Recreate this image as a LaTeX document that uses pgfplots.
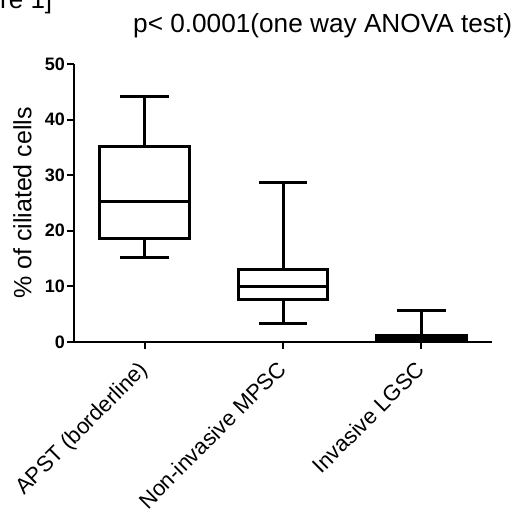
\documentclass[border=0pt]{standalone}
\usepackage{pgfplots}
\pgfplotsset{compat=1.18}
\usepgfplotslibrary{statistics}
\usepackage{fontspec}
\setmainfont{Liberation Sans}
\begin{document}
\begin{tikzpicture}[x=1pt,y=1pt]
\path[use as bounding box] (0,0) rectangle (515,512);
\node[anchor=base west, font=\fontsize{26}{30}\selectfont, inner sep=0] at (0,503) {re 1]};
\node[anchor=base west, font=\fontsize{26.2}{30}\selectfont, inner sep=0] at (133,479) {p< 0.0001(one way ANOVA test)};
\begin{axis}[
  at={(74pt,170pt)}, anchor=south west,
  scale only axis, width=418pt, height=278pt,
  xmin=0.49, xmax=3.51, ymin=0, ymax=50,
  axis x line*=bottom, axis y line*=left,
  axis line style={line width=2pt, -},
  ytick={0,10,...,50}, xtick={1,2,3},
  xticklabels={APST (borderline), Non-invasive MPSC, Invasive LGSC},
  tick align=outside, major tick length=7pt,
  every tick/.style={line width=2pt, black},
  /pgf/number format/assume math mode=true,
  yticklabel style={font=\bfseries\fontsize{18}{18}\selectfont, inner sep=2pt},
  xticklabel style={xshift=-7pt, yshift=-9pt, rotate=45, anchor=north east, font=\fontsize{22}{22}\selectfont, inner sep=1pt},
  ylabel={\% of ciliated cells},
  every axis y label/.style={at={(axis description cs:0,0.5)}, xshift=-51.5pt, rotate=90, anchor=center, font=\fontsize{25}{25}\selectfont},
  boxplot/draw direction=y,
]
\addplot[black, line width=3pt, solid, mark=none, boxplot prepared={draw position=1, lower whisker=15.2, lower quartile=18.6, median=25.2, upper quartile=35.1, upper whisker=44.2, box extend=0.65, whisker extend=0.35}] coordinates {};
\addplot[black, line width=3pt, solid, mark=none, boxplot prepared={draw position=2, lower whisker=3.4, lower quartile=7.7, median=9.9, upper quartile=13.1, upper whisker=28.7, box extend=0.65, whisker extend=0.35}] coordinates {};
\addplot[black, fill=black, line width=3pt, solid, mark=none, boxplot prepared={draw position=3, lower whisker=0, lower quartile=0, median=0.3, upper quartile=1.1, upper whisker=5.6, box extend=0.65, whisker extend=0.35}] coordinates {};
\end{axis}
\end{tikzpicture}
\end{document}
